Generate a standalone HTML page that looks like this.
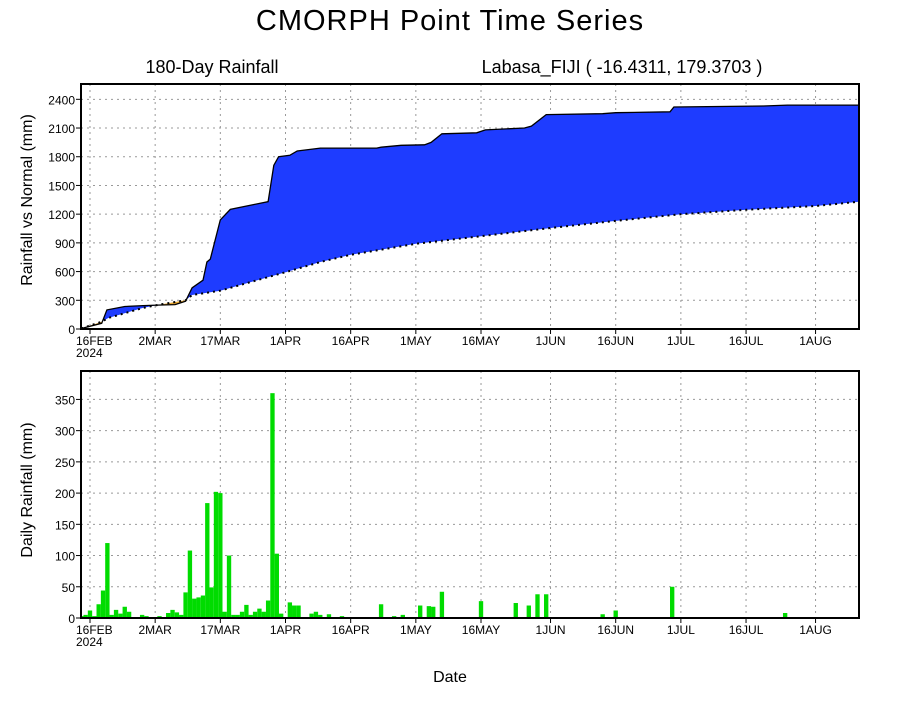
<!DOCTYPE html>
<html><head><meta charset="utf-8"><style>
body{margin:0;background:#fff;width:900px;height:700px;overflow:hidden}
svg text{font-family:"Liberation Sans",sans-serif;fill:#000}
</style></head><body>
<svg id="c" width="900" height="700" xmlns="http://www.w3.org/2000/svg">
<text x="450" y="30" font-size="29" text-anchor="middle" letter-spacing="1">CMORPH Point Time Series</text>
<text x="212" y="73" font-size="18" text-anchor="middle">180-Day Rainfall</text>
<text x="622" y="73" font-size="18" text-anchor="middle">Labasa_FIJI ( -16.4311, 179.3703 )</text>
<text transform="translate(32,200) rotate(-90)" font-size="16" text-anchor="middle">Rainfall vs Normal (mm)</text>
<text transform="translate(32,490) rotate(-90)" font-size="16" text-anchor="middle">Daily Rainfall (mm)</text>
<text x="450" y="682" font-size="16" text-anchor="middle">Date</text>
<g id="top"></g><g id="bot"></g>
</svg>
<script>
const tickDays=[0,15,30,45,60,75,90,106,121,136,151,167];
const tickLabels=["16FEB","2MAR","17MAR","1APR","16APR","1MAY","16MAY","1JUN","16JUN","1JUL","16JUL","1AUG"];
const actualDays=[-2,2.7,3.9,8,12.2,15.5,19.6,22,23.5,26,26.9,27.7,30,32.3,37.6,41,42.3,43.4,46,47.7,53,66,67,71.6,77,78.5,81,89,91,100,101.6,105,118,121,133.5,134.4,155,160.5,177];
const actualVals=[5,60,200,235,245,250,255,290,430,510,700,730,1140,1250,1300,1330,1710,1800,1815,1860,1890,1890,1900,1920,1925,1950,2040,2050,2080,2100,2120,2240,2250,2260,2270,2320,2330,2340,2340];
const normalDays=[-2,2.7,4.2,12.2,16,22,23.5,30,39.3,45.5,53,60,75,90,106,121,136,151,167,177];
const normalVals=[5,75,115,220,255,300,355,400,520,600,700,775,890,970,1055,1130,1200,1245,1285,1330];
const dailyStart=-2;
const dailyVals=[3,5,12,3,22,44,120,5,13,7,18,10,1,1,5,3,1,1,3,1,8,13,9,5,41,108,31,33,36,184,49,202,200,10,100,5,5,10,21,5,10,15,10,28,360,103,7,1,25,20,20,1,1,7,10];
const laterDays=[53,55,58,67,70,72,76,78,79,81,90,98,101,103,105,118,121,134,160];
const laterVals=[5,6,3,22,3,5,20,19,18,42,27,24,20,38,38,6,12,50,8];
const topTicks=[0,300,600,900,1200,1500,1800,2100,2400];
const botTicks=[0,50,100,150,200,250,300,350];

const NS="http://www.w3.org/2000/svg";
const L=81,R=859,D0=-2.07,D1=177;
const X=d=>L+(d-D0)/(D1-D0)*(R-L);
function mk(p,t,a){const e=document.createElementNS(NS,t);for(const k in a)e.setAttribute(k,a[k]);p.appendChild(e);return e;}
function frame(g,T,B,Y,ticks,name){
  ticks.forEach(v=>{const y=Y(v);
    if(v>0){const gl=mk(g,'line',{x1:L,x2:R,y1:y,y2:y,stroke:'#999','stroke-dasharray':'2,4'});}
    mk(g,'line',{x1:L-5,x2:L,y1:y,y2:y,stroke:'#000'});
    const t=mk(g,'text',{x:L-6,y:y+5,'font-size':12,'text-anchor':'end'});t.textContent=v;
    });
  tickDays.forEach((d,i)=>{const x=X(d);
    const gl=mk(g,'line',{x1:x,x2:x,y1:T,y2:B,stroke:'#999','stroke-dasharray':'2,4'});
    
    mk(g,'line',{x1:x,x2:x,y1:B,y2:B+5,stroke:'#000'});
    const t=mk(g,'text',{x:x,y:B+16,'font-size':12,'text-anchor':i==0?'start':'middle'});
    if(i==0)t.setAttribute('x',x-14);
    t.textContent=tickLabels[i];
    });
  const y=mk(g,'text',{x:X(0)-14,y:B+28,'font-size':12});y.textContent='2024';
  
}
(function(){
  const g=document.getElementById('top'),T=84,B=329,ymax=2560;
  const Y=v=>B-v/ymax*(B-T);
  const ap=actualDays.map((d,i)=>[X(d),Y(actualVals[i])]);
  const np=normalDays.map((d,i)=>[X(d),Y(normalVals[i])]);
  const ps=a=>a.map(p=>p[0].toFixed(1)+','+p[1].toFixed(1)).join(' ');
  const defs=mk(g,'defs',{});
  const c1=mk(defs,'clipPath',{id:'aboveN'});mk(c1,'polygon',{points:ps(np)+` ${R+5},${T-5} ${L-5},${T-5}`});
  const c2=mk(defs,'clipPath',{id:'aboveA'});mk(c2,'polygon',{points:ps(ap)+` ${R+5},${T-5} ${L-5},${T-5}`});
  frame(g,T,B,Y,topTicks,'top');
  const b=mk(g,'polygon',{points:ps(ap)+` ${ap[ap.length-1][0]},${B} ${ap[0][0]},${B}`,fill:'#1e3cff','clip-path':'url(#aboveN)'});
  
  const o=mk(g,'polygon',{points:ps(np)+` ${np[np.length-1][0]},${B} ${np[0][0]},${B}`,fill:'#e8a630','clip-path':'url(#aboveA)'});
  
  const la=mk(g,'polyline',{points:ps(ap),fill:'none',stroke:'#000','stroke-width':1.3});
  
  const ln=mk(g,'polyline',{points:ps(np),fill:'none',stroke:'#000','stroke-width':2,'stroke-dasharray':'2,4'});
  
  const f=mk(g,'rect',{x:L,y:T,width:R-L,height:B-T,fill:'none',stroke:'#000','stroke-width':2});
  
})();
(function(){
  const g=document.getElementById('bot'),T=371,B=618,ymax=395.5;
  const Y=v=>B-v/ymax*(B-T);
  frame(g,T,B,Y,botTicks,'bottom');
  const w=(R-L)/(D1-D0);
  const bars=[];
  dailyVals.forEach((v,i)=>bars.push([dailyStart+i,v]));
  const last=dailyStart+dailyVals.length;
  for(let d=last;d<=D1;d++){const k=laterDays.indexOf(d);bars.push([d,k>=0?laterVals[k]:1]);}
  bars.forEach(([d,v])=>{if(d>D1)return;
    const x0=Math.max(L,X(d)-w/2),x1=Math.min(R,X(d)+w/2);
    const r=mk(g,'rect',{x:x0,y:Y(v),width:Math.max(0,x1-x0),height:B-Y(v),fill:'#00dc00'});
    });
  const f=mk(g,'rect',{x:L,y:T,width:R-L,height:B-T,fill:'none',stroke:'#000','stroke-width':2});
  
})();
</script>
</body></html>
